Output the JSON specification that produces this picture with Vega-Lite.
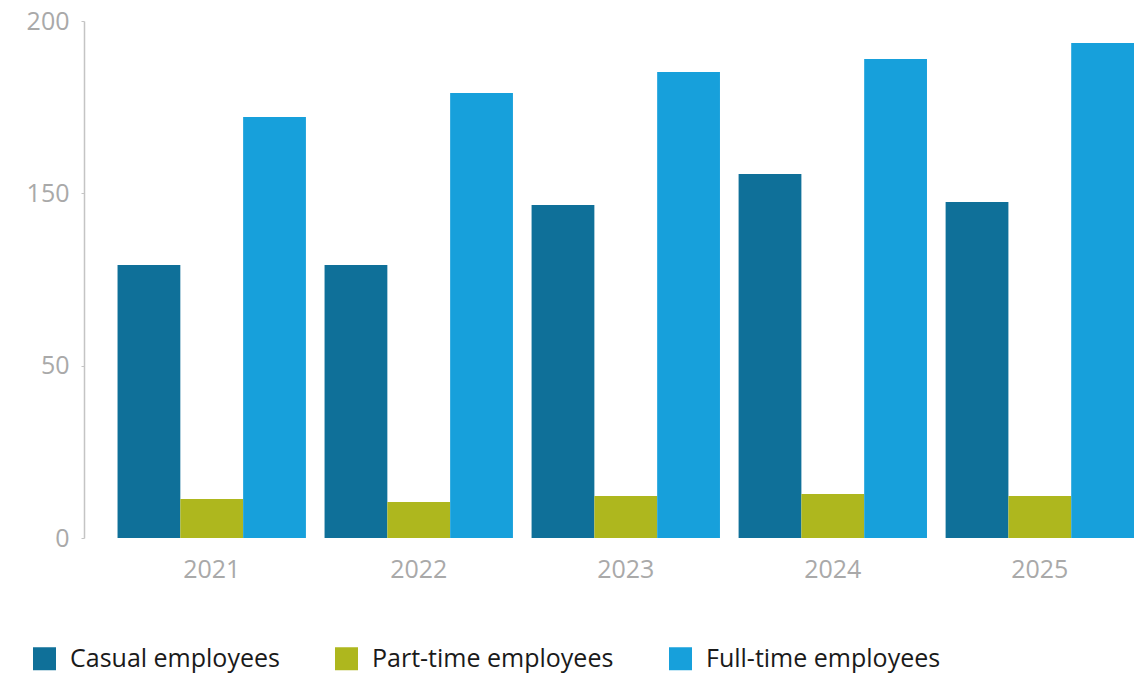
{
  "$schema": "https://vega.github.io/schema/vega-lite/v6.json",
  "width": 1050,
  "height": 517,
  "autosize": {"type": "none"},
  "padding": {"left": 84, "top": 21, "right": 0, "bottom": 136},
  "background": "#ffffff",
  "config": {
    "view": {"stroke": null},
    "font": "Open Sans"
  },
  "data": {
    "values": [
      {"year": "2021", "type": "Casual employees", "value": 105.6},
      {"year": "2021", "type": "Part-time employees", "value": 15.1},
      {"year": "2021", "type": "Full-time employees", "value": 162.9},
      {"year": "2022", "type": "Casual employees", "value": 105.6},
      {"year": "2022", "type": "Part-time employees", "value": 13.9},
      {"year": "2022", "type": "Full-time employees", "value": 172.1},
      {"year": "2023", "type": "Casual employees", "value": 128.8},
      {"year": "2023", "type": "Part-time employees", "value": 16.2},
      {"year": "2023", "type": "Full-time employees", "value": 180.3},
      {"year": "2024", "type": "Casual employees", "value": 140.8},
      {"year": "2024", "type": "Part-time employees", "value": 17.0},
      {"year": "2024", "type": "Full-time employees", "value": 185.3},
      {"year": "2025", "type": "Casual employees", "value": 130.0},
      {"year": "2025", "type": "Part-time employees", "value": 16.2},
      {"year": "2025", "type": "Full-time employees", "value": 191.5}
    ]
  },
  "mark": {"type": "bar"},
  "encoding": {
    "x": {
      "field": "year",
      "type": "nominal",
      "scale": {"paddingInner": 0.09, "paddingOuter": 0.081, "align": 1},
      "axis": {
        "title": null,
        "domain": false,
        "ticks": false,
        "labelAngle": 0,
        "labelFontSize": 25,
        "labelColor": "#a9a9a9",
        "labelPadding": 19,
        "labelFont": "Open Sans"
      }
    },
    "xOffset": {
      "field": "type",
      "type": "nominal",
      "sort": ["Casual employees", "Part-time employees", "Full-time employees"],
      "scale": {"paddingInner": 0, "paddingOuter": 0}
    },
    "y": {
      "field": "value",
      "type": "quantitative",
      "scale": {"domain": [0, 200], "nice": false, "zero": true},
      "axis": {
        "title": null,
        "grid": false,
        "values": [0, 66.6667, 133.3333, 200],
        "labelExpr": "datum.value < 1 ? '0' : datum.value < 100 ? '50' : datum.value < 150 ? '150' : '200'",
        "domainColor": "#c4c4c4",
        "domainWidth": 1.5,
        "tickColor": "#c4c4c4",
        "tickSize": 3,
        "tickOffset": 0,
        "labelPadding": 12,
        "labelFontSize": 25,
        "labelColor": "#a9a9a9",
        "labelFont": "Open Sans"
      }
    },
    "color": {
      "field": "type",
      "type": "nominal",
      "scale": {
        "domain": ["Casual employees", "Part-time employees", "Full-time employees"],
        "range": ["#0f7099", "#aeb71e", "#17a0db"]
      },
      "legend": {
        "title": null,
        "orient": "none",
        "direction": "horizontal",
        "legendX": -52,
        "legendY": 625,
        "symbolType": "square",
        "symbolSize": 529,
        "symbolStrokeWidth": 0,
        "symbolOpacity": 1,
        "labelFontSize": 25,
        "labelFont": "Open Sans",
        "labelColor": "#1a1a1a",
        "labelOffset": 13,
        "columnPadding": 54,
        "labelLimit": 400
      }
    }
  }
}
